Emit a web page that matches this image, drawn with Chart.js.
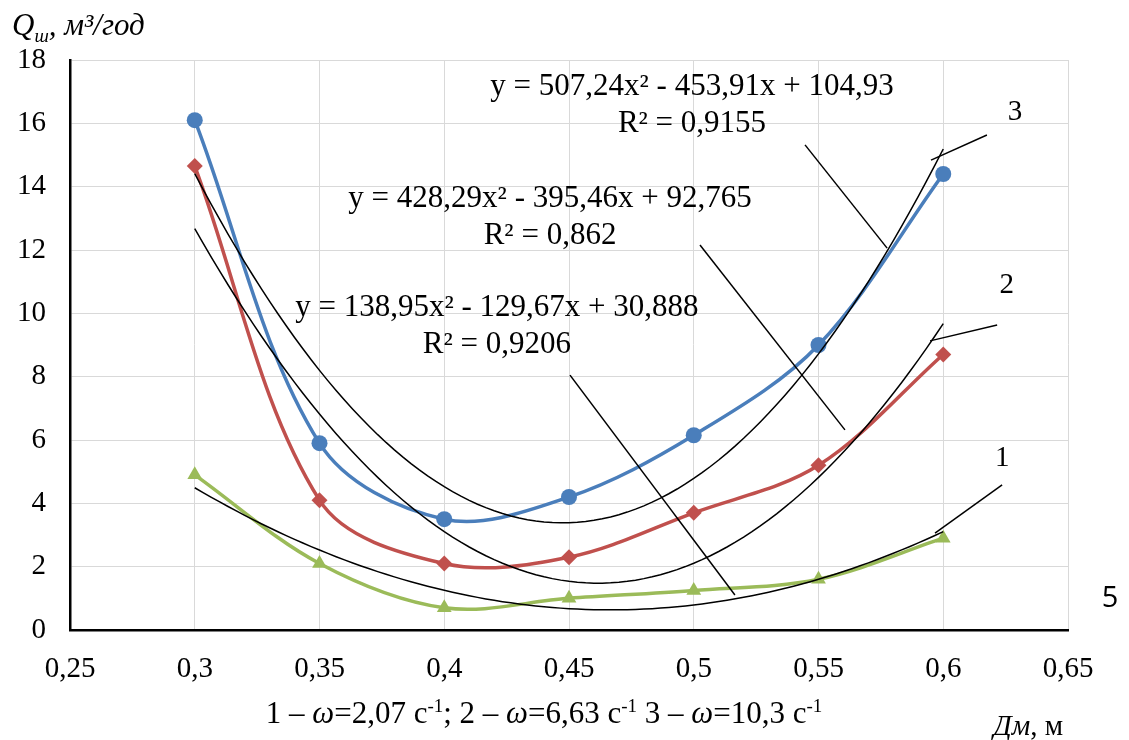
<!DOCTYPE html>
<html>
<head>
<meta charset="utf-8">
<script src="https://cdn.jsdelivr.net/npm/chart.js@4.4.1/dist/chart.umd.min.js"></script>
<style>
  html, body { margin: 0; padding: 0; background: #ffffff; }
  #c { display: block; }
</style>
</head>
<body>
<canvas id="c" width="1129" height="740"></canvas>
<script>
// Pipe diameter, m
const diameters = [0.3, 0.35, 0.4, 0.45, 0.5, 0.55, 0.6];
// Flow for the three rotation speeds, m3/year
const flowW1 = [4.9, 2.1, 0.7, 1.0, 1.25, 1.6, 2.9];
const flowW2 = [14.65, 4.1, 2.1, 2.3, 3.7, 5.2, 8.7];
const flowW3 = [16.1, 5.9, 3.5, 4.2, 6.15, 9.0, 14.4];
// Quadratic trendline coefficients [a, b, c] for y = a*x^2 + b*x + c
const trendW1 = [138.95, -129.67, 30.888];
const trendW2 = [428.29, -395.46, 92.765];
const trendW3 = [507.24, -453.91, 104.93];
const rSquared = [0.9206, 0.862, 0.9155];
// Axis ticks
const xTicks = [0.25, 0.3, 0.35, 0.4, 0.45, 0.5, 0.55, 0.6, 0.65];
const yTicks = [0, 2, 4, 6, 8, 10, 12, 14, 16, 18];

const SERIF = "'Liberation Serif', 'Times New Roman', serif";
const COL_BLUE = '#4a7ebb';
const COL_RED = '#c0504d';
const COL_GREEN = '#9bbb59';

const comma = v => String(v).replace('.', ',');

function toPoints(xs, ys) {
  return xs.map((x, i) => ({ x: x, y: ys[i] }));
}

// Points along a fitted parabola over the measured diameter range
function trendPoints(coef) {
  const x0 = diameters[0], x1 = diameters[diameters.length - 1];
  const n = 90, pts = [];
  for (let i = 0; i <= n; i++) {
    const x = x0 + (x1 - x0) * i / n;
    pts.push({ x: x, y: coef[0] * x * x + coef[1] * x + coef[2] });
  }
  return pts;
}

function equationText(coef) {
  const s = v => (v < 0 ? '- ' : '+ ') + comma(Math.abs(v));
  return 'y = ' + comma(coef[0]) + 'x² ' + s(coef[1]) + 'x ' + s(coef[2]);
}

// Where the equation boxes, leader lines and curve numbers sit (data units)
const equationSpots = [
  { coef: trendW1, r2: rSquared[0], x: 0.4211, y: 10.23 },
  { coef: trendW2, r2: rSquared[1], x: 0.4424, y: 13.67 },
  { coef: trendW3, r2: rSquared[2], x: 0.4993, y: 17.21 }
];
const leaderLines = [
  [0.4504, 8.05, 0.5165, 1.105],
  [0.5025, 12.16, 0.5606, 6.32],
  [0.5446, 15.32, 0.5775, 12.06],
  [0.5967, 3.06, 0.6236, 4.58],
  [0.5947, 9.13, 0.6216, 9.63],
  [0.5951, 14.84, 0.6175, 15.63]
];
const curveNumbers = [
  { t: '1', x: 0.6236, y: 5.43, font: SERIF },
  { t: '2', x: 0.6255, y: 10.89, font: SERIF },
  { t: '3', x: 0.6288, y: 16.33, font: SERIF },
  { t: '5', x: 0.6668, y: 1.0, font: "'Open Sans', 'DejaVu Sans', sans-serif" }
];

// Draw a run of text pieces with mixed style / super- and subscripts
function drawRich(ctx, x, y, parts, size, align) {
  const fontFor = p => {
    const sz = (p.sup || p.sub) ? Math.round(size * 0.62) : size;
    return (p.italic ? 'italic ' : '') + sz + 'px ' + SERIF;
  };
  let w = 0;
  parts.forEach(p => { ctx.font = fontFor(p); w += ctx.measureText(p.t).width; });
  let cx = align === 'center' ? x - w / 2 : (align === 'right' ? x - w : x);
  ctx.textBaseline = 'alphabetic';
  ctx.textAlign = 'left';
  parts.forEach(p => {
    ctx.font = fontFor(p);
    const dy = p.sup ? -size * 0.36 : (p.sub ? size * 0.22 : 0);
    ctx.fillText(p.t, cx, y + dy);
    cx += ctx.measureText(p.t).width;
  });
  return w;
}

const annotations = {
  id: 'annotations',
  afterDatasetsDraw(chart) {
    const ctx = chart.ctx;
    const xs = chart.scales.x, ys = chart.scales.y;
    const px = v => xs.getPixelForValue(v);
    const py = v => ys.getPixelForValue(v);
    ctx.save();
    ctx.fillStyle = '#000';

    // leader lines
    ctx.strokeStyle = '#000';
    ctx.lineWidth = 1.5;
    leaderLines.forEach(l => {
      ctx.beginPath();
      ctx.moveTo(px(l[0]), py(l[1]));
      ctx.lineTo(px(l[2]), py(l[3]));
      ctx.stroke();
    });

    // trendline equations
    equationSpots.forEach(e => {
      const cx = px(e.x), cy = py(e.y) + 10;
      drawRich(ctx, cx, cy, [{ t: equationText(e.coef) }], 31, 'center');
      drawRich(ctx, cx, cy + 37, [{ t: 'R² = ' + comma(e.r2) }], 31, 'center');
    });

    // curve numbers
    ctx.textAlign = 'center';
    ctx.textBaseline = 'middle';
    curveNumbers.forEach(n => {
      ctx.font = '29px ' + n.font;
      ctx.fillText(n.t, px(n.x), py(n.y));
    });

    // y axis title
    drawRich(ctx, 12, 35, [
      { t: 'Q', italic: true },
      { t: 'ш', italic: true, sub: true },
      { t: ', м³/год', italic: true }
    ], 31, 'left');

    // speed legend under the axis
    drawRich(ctx, 544, 723, [
      { t: '1 – ' }, { t: 'ω', italic: true }, { t: '=2,07 с' }, { t: '-1', sup: true },
      { t: '; 2 – ' }, { t: 'ω', italic: true }, { t: '=6,63 с' }, { t: '-1', sup: true },
      { t: ' 3 – ' }, { t: 'ω', italic: true }, { t: '=10,3 с' }, { t: '-1', sup: true }
    ], 31, 'center');

    // x axis title
    drawRich(ctx, 1063, 735, [{ t: 'Дм', italic: true }, { t: ', м' }], 29, 'right');

    ctx.restore();
  }
};

const seriesStyle = (color, shape, radius) => ({
  showLine: true,
  borderColor: color,
  backgroundColor: color,
  borderWidth: 3.5,
  pointStyle: shape,
  pointRadius: radius,
  pointBorderWidth: 0,
  pointBackgroundColor: color,
  tension: 0.34,
  order: 2
});

const trendStyle = {
  showLine: true,
  borderColor: '#000',
  borderWidth: 1.5,
  pointRadius: 0,
  tension: 0,
  order: 1
};

new Chart(document.getElementById('c'), {
  type: 'scatter',
  data: {
    datasets: [
      Object.assign({ label: '1', data: toPoints(diameters, flowW1) }, seriesStyle(COL_GREEN, 'triangle', 8.5)),
      Object.assign({ label: '2', data: toPoints(diameters, flowW2) }, seriesStyle(COL_RED, 'rectRot', 8)),
      Object.assign({ label: '3', data: toPoints(diameters, flowW3) }, seriesStyle(COL_BLUE, 'circle', 8)),
      Object.assign({ label: 'trend 1', data: trendPoints(trendW1) }, trendStyle),
      Object.assign({ label: 'trend 2', data: trendPoints(trendW2) }, trendStyle),
      Object.assign({ label: 'trend 3', data: trendPoints(trendW3) }, trendStyle)
    ]
  },
  options: {
    responsive: false,
    animation: false,
    devicePixelRatio: 1,
    layout: { padding: { left: 0, top: 60, right: 61, bottom: 0 } },
    plugins: {
      legend: { display: false },
      tooltip: { enabled: false }
    },
    scales: {
      x: {
        type: 'linear',
        min: 0.25,
        max: 0.65,
        afterBuildTicks: s => { s.ticks = xTicks.map(v => ({ value: v })); },
        afterFit: s => { s.height = 110; },
        ticks: {
          callback: v => comma(+v.toFixed(2)),
          font: { family: SERIF, size: 29 },
          color: '#000',
          padding: 22,
          maxRotation: 0,
          autoSkip: false
        },
        grid: { color: '#d9d9d9', lineWidth: 1, drawTicks: false },
        border: { color: '#000', width: 2.5 }
      },
      y: {
        min: 0,
        max: 18,
        afterBuildTicks: s => { s.ticks = yTicks.map(v => ({ value: v })); },
        afterFit: s => { s.width = 70; },
        ticks: {
          font: { family: SERIF, size: 29 },
          color: '#000',
          padding: 24
        },
        grid: { color: '#d9d9d9', lineWidth: 1, drawTicks: false },
        border: { color: '#000', width: 2.5 }
      }
    }
  },
  plugins: [annotations]
});
</script>
</body>
</html>
